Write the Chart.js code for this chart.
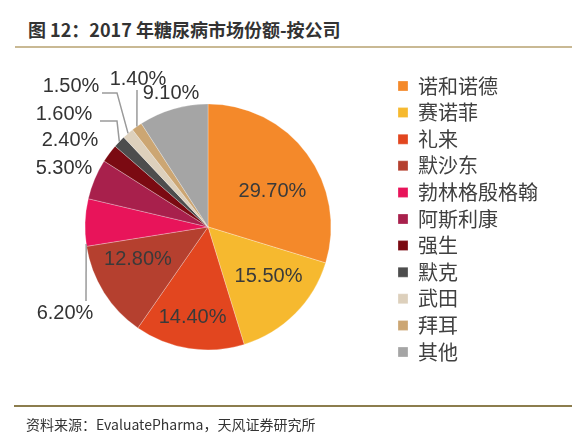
<!DOCTYPE html>
<html>
<head>
<meta charset="utf-8">
<script src="https://cdn.jsdelivr.net/npm/chart.js@4/dist/chart.umd.min.js"></script>
<style>
  body { margin: 0; background: #fff; overflow: hidden; }
  #wrap { position: relative; width: 572px; height: 437px; }
  #pie { position: absolute; left: 0; top: 0; }
  .title { position: absolute; left: 28px; top: 16px; font: bold 18px "Noto Sans CJK SC", sans-serif; color: #333; white-space: nowrap; }
  .rule-top { position: absolute; left: 15px; right: 0; top: 46px; height: 2px; background: #c9b994; }
  .rule-bottom { position: absolute; left: 14px; right: 0; top: 405px; height: 1.5px; background: #8c7d4e; }
  .source { position: absolute; left: 26px; top: 414px; font: 14px "Noto Sans CJK SC", sans-serif; color: #333; white-space: nowrap; }
</style>
</head>
<body>
<div id="wrap">
  <div class="title">图 12：2017 年糖尿病市场份额-按公司</div>
  <div class="rule-top"></div>
  <canvas id="pie" width="572" height="437"></canvas>
  <div class="rule-bottom"></div>
  <div class="source">资料来源：EvaluatePharma，天风证券研究所</div>
</div>
<script>
const companies = ['诺和诺德', '赛诺菲', '礼来', '默沙东', '勃林格殷格翰', '阿斯利康', '强生', '默克', '武田', '拜耳', '其他'];
const shares = [29.7, 15.5, 14.4, 12.8, 6.2, 5.3, 2.4, 1.6, 1.5, 1.4, 9.1];
const sliceColors = ['#f4892a', '#f6b92f', '#e2461f', '#b5402f', '#e8145a', '#a8204c', '#7b0a12', '#4d4d4d', '#ddd0bc', '#cca673', '#a5a5a5'];

// where each percentage goes: inside labels nudge off the arc centre,
// outside labels sit at an offset from the pie centre with an optional leader
const labelLayout = [
    { inside: true, nudge: [15, 1] },
    { inside: true, nudge: [17, 6] },
    { inside: true, nudge: [-6, 30] },
    { inside: true, nudge: [-18, 0] },
    { at: [-143, 87], leaderFrom: 0.05, leader: [[-122, 74]] },
    { at: [-144, -58] },
    { at: [-138, -86] },
    { at: [-144, -112], leaderFrom: 0.5, leader: [[-91, -106], [-108, -106]] },
    { at: [-137, -140], leaderFrom: 0.5, leader: [[-91, -134], [-106, -134]] },
    { at: [-70, -147], leaderFrom: 0.5, leader: [[-71, -137]] },
    { at: [-37, -133] }
];

const pieLabels = {
    id: 'pieLabels',
    afterDatasetsDraw(chart) {
        const ctx = chart.ctx;
        const arcs = chart.getDatasetMeta(0).data;
        ctx.save();
        ctx.font = '20px "Liberation Sans", Arial, sans-serif';
        ctx.textAlign = 'center';
        ctx.textBaseline = 'middle';
        arcs.forEach((arc, i) => {
            const p = arc.getProps(['x', 'y', 'startAngle', 'endAngle', 'outerRadius'], true);
            const spec = labelLayout[i];
            const text = shares[i].toFixed(2) + '%';
            if (spec.inside) {
                const c = arc.getCenterPoint();
                ctx.fillStyle = '#3a3a3a';
                ctx.fillText(text, c.x + spec.nudge[0], c.y + spec.nudge[1]);
                return;
            }
            if (spec.leader) {
                const a = p.startAngle + (p.endAngle - p.startAngle) * spec.leaderFrom;
                ctx.beginPath();
                ctx.moveTo(p.x + Math.cos(a) * p.outerRadius, p.y + Math.sin(a) * p.outerRadius);
                spec.leader.forEach(pt => ctx.lineTo(p.x + pt[0], p.y + pt[1]));
                ctx.strokeStyle = '#9a9a9a';
                ctx.lineWidth = 1.5;
                ctx.stroke();
            }
            ctx.fillStyle = '#333';
            ctx.fillText(text, p.x + spec.at[0], p.y + spec.at[1]);
        });
        ctx.restore();
    }
};

new Chart(document.getElementById('pie'), {
    type: 'pie',
    data: {
        labels: companies,
        datasets: [{
            data: shares,
            backgroundColor: sliceColors,
            borderColor: 'rgba(255,255,255,0.45)',
            borderWidth: 0.6,
            radius: 123
        }]
    },
    options: {
        responsive: false,
        animation: false,
        layout: { padding: { left: 24.6, right: 24, top: 69.4, bottom: 52.6 } },
        plugins: {
            tooltip: { enabled: false },
            legend: {
                position: 'right',
                align: 'start',
                labels: {
                    boxWidth: 10,
                    boxHeight: 10,
                    padding: 6.6,
                    color: '#404040',
                    font: { family: '"Noto Sans CJK SC", sans-serif', size: 20 }
                }
            }
        }
    },
    plugins: [pieLabels]
});
</script>
</body>
</html>
